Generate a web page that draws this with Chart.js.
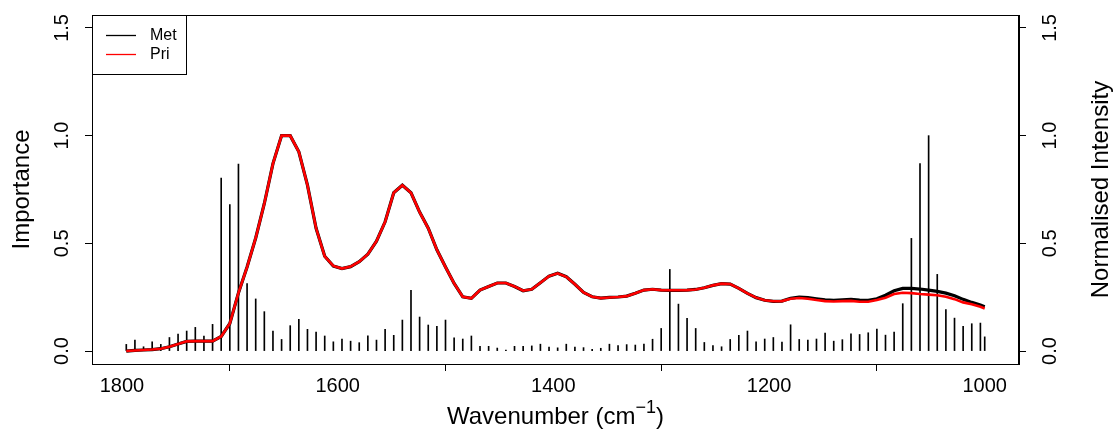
<!DOCTYPE html>
<html>
<head>
<meta charset="utf-8">
<script src="https://cdn.jsdelivr.net/npm/chart.js@4/dist/chart.umd.min.js"></script>
<style>
html,body{margin:0;padding:0;background:#fff;}
#wrap{width:1117px;height:436px;}
</style>
</head>
<body>
<div id="wrap"><canvas id="c" width="1117" height="436"></canvas></div>
<script>
const wavenumbers = [1796,1788,1780,1772,1764,1756,1748,1740,1732,1724,
 1716,1708,1700,1692,1684,1676,1668,1660,1652,1644,
 1636,1628,1620,1612,1604,1596,1588,1580,1572,1564,
 1556,1548,1540,1532,1524,1516,1508,1500,1492,1484,
 1476,1468,1460,1452,1444,1436,1428,1420,1412,1404,
 1396,1388,1380,1372,1364,1356,1348,1340,1332,1324,
 1316,1308,1300,1292,1284,1276,1268,1260,1252,1244,
 1236,1228,1220,1212,1204,1196,1188,1180,1172,1164,
 1156,1148,1140,1132,1124,1116,1108,1100,1092,1084,
 1076,1068,1060,1052,1044,1036,1028,1020,1012,1004,1000];

const intensity = [0.031,0.051,0.020,0.043,0.031,0.063,0.079,0.093,0.110,0.070,
 0.124,0.803,0.680,0.868,0.313,0.242,0.183,0.093,0.054,0.118,
 0.147,0.101,0.088,0.070,0.043,0.056,0.046,0.039,0.071,0.051,
 0.101,0.073,0.144,0.282,0.158,0.121,0.115,0.144,0.062,0.056,
 0.070,0.022,0.022,0.014,0.005,0.022,0.022,0.024,0.032,0.018,
 0.015,0.032,0.018,0.016,0.008,0.013,0.032,0.025,0.030,0.028,
 0.032,0.055,0.105,0.379,0.218,0.152,0.105,0.040,0.026,0.020,
 0.054,0.073,0.093,0.043,0.056,0.063,0.042,0.122,0.054,0.051,
 0.056,0.084,0.046,0.053,0.080,0.077,0.085,0.102,0.074,0.088,
 0.220,0.523,0.870,1.000,0.356,0.193,0.153,0.115,0.127,0.130,0.066];

const importancePri = [0.000,0.003,0.005,0.007,0.011,0.020,0.033,0.045,0.046,0.046,
 0.046,0.068,0.128,0.270,0.390,0.525,0.685,0.870,1.000,1.000,
 0.925,0.770,0.570,0.440,0.395,0.383,0.392,0.415,0.450,0.510,
 0.600,0.735,0.770,0.735,0.645,0.570,0.470,0.390,0.314,0.252,
 0.245,0.283,0.300,0.316,0.316,0.300,0.280,0.287,0.317,0.348,
 0.361,0.345,0.310,0.272,0.252,0.246,0.249,0.251,0.255,0.268,
 0.283,0.287,0.283,0.282,0.282,0.283,0.286,0.294,0.305,0.313,
 0.311,0.291,0.268,0.248,0.236,0.231,0.232,0.243,0.246,0.243,
 0.237,0.232,0.230,0.232,0.233,0.229,0.229,0.237,0.248,0.265,
 0.271,0.269,0.265,0.262,0.259,0.252,0.241,0.226,0.217,0.206,0.198];

const importanceMet = [0.000,0.003,0.005,0.007,0.011,0.020,0.033,0.045,0.046,0.046,
 0.046,0.068,0.128,0.270,0.390,0.525,0.685,0.870,1.000,1.000,
 0.925,0.770,0.570,0.440,0.395,0.383,0.392,0.415,0.450,0.510,
 0.600,0.735,0.770,0.735,0.645,0.570,0.470,0.390,0.314,0.252,
 0.245,0.283,0.300,0.316,0.316,0.300,0.280,0.287,0.317,0.348,
 0.361,0.345,0.310,0.272,0.252,0.246,0.249,0.251,0.255,0.268,
 0.283,0.287,0.283,0.282,0.282,0.283,0.286,0.294,0.305,0.313,
 0.311,0.291,0.268,0.248,0.236,0.231,0.232,0.245,0.251,0.248,
 0.243,0.238,0.236,0.238,0.240,0.237,0.236,0.243,0.259,0.280,
 0.291,0.291,0.288,0.283,0.277,0.269,0.257,0.240,0.226,0.214,0.206];

const xTicks = [1800, 1600, 1400, 1200, 1000];
const yTicks = [0, 0.5, 1.0, 1.5];
const yTickLabels = ['0.0', '0.5', '1.0', '1.5'];
const seriesNames = ['Met', 'Pri'];
const seriesColors = ['#000000', '#ff0000'];

const FONT = "'Liberation Sans', Arial, Helvetica, sans-serif";

const decorPlugin = {
  id: 'decor',
  afterDraw(chart) {
    const ctx = chart.ctx;
    const a = chart.chartArea;
    const yL = chart.scales.y, yR = chart.scales.y2;
    ctx.save();
    // box
    ctx.strokeStyle = '#000';
    ctx.lineWidth = 1;
    ctx.strokeRect(Math.round(a.left) + 0.5, Math.round(a.top) + 0.5,
      Math.round(a.right - a.left) - 1, Math.round(a.bottom - a.top));
    // rotated y tick labels
    ctx.fillStyle = '#000';
    ctx.font = '20px ' + FONT;
    ctx.textAlign = 'center';
    ctx.textBaseline = 'middle';
    yTicks.forEach((v, i) => {
      const py = yL.getPixelForValue(v);
      ctx.save(); ctx.translate(62, py); ctx.rotate(-Math.PI / 2);
      ctx.fillText(yTickLabels[i], 0, 0); ctx.restore();
      const py2 = yR.getPixelForValue(v);
      ctx.save(); ctx.translate(1050, py2); ctx.rotate(-Math.PI / 2);
      ctx.fillText(yTickLabels[i], 0, 0); ctx.restore();
    });
    // axis titles
    ctx.font = '24px ' + FONT;
    const midY = (a.top + a.bottom) / 2;
    ctx.save(); ctx.translate(22, midY); ctx.rotate(-Math.PI / 2);
    ctx.fillText('Importance', 0, 0); ctx.restore();
    ctx.save(); ctx.translate(1101, midY); ctx.rotate(-Math.PI / 2);
    ctx.fillText('Normalised Intensity', 0, 0); ctx.restore();
    // x title with superscript
    const main = 'Wavenumber (cm';
    const sup = '\u22121';
    const close = ')';
    ctx.font = '24px ' + FONT;
    const w1 = ctx.measureText(main).width;
    const w3 = ctx.measureText(close).width;
    ctx.font = '18px ' + FONT;
    const w2 = ctx.measureText(sup).width;
    const total = w1 + w2 + w3;
    const cx = (a.left + a.right) / 2;
    const sx = cx - total / 2;
    const by = 424;
    ctx.textAlign = 'left';
    ctx.textBaseline = 'alphabetic';
    ctx.font = '24px ' + FONT;
    ctx.fillText(main, sx, by);
    ctx.font = '18px ' + FONT;
    ctx.fillText(sup, sx + w1, by - 11);
    ctx.font = '24px ' + FONT;
    ctx.fillText(close, sx + w1 + w2, by);
    // legend
    const lx = Math.round(a.left), ly = Math.round(a.top);
    ctx.fillStyle = '#fff';
    ctx.fillRect(lx + 1, ly + 1, 93, 58);
    ctx.strokeStyle = '#000';
    ctx.lineWidth = 1;
    ctx.strokeRect(lx + 0.5, ly + 0.5, 94, 59);
    ctx.font = '16px ' + FONT;
    ctx.textBaseline = 'middle';
    ctx.textAlign = 'left';
    seriesNames.forEach((n, i) => {
      const yy = ly + 20 + i * 19;
      ctx.strokeStyle = seriesColors[i];
      ctx.lineWidth = 1.3;
      ctx.beginPath(); ctx.moveTo(lx + 14, yy + 0.5); ctx.lineTo(lx + 44, yy + 0.5); ctx.stroke();
      ctx.fillStyle = '#000';
      ctx.fillText(n, lx + 58, yy + 1);
    });
    ctx.restore();
  }
};

function pts(vals) { return wavenumbers.map((w, i) => ({ x: w, y: vals[i] })); }

const yCommon = {
  type: 'linear', min: -0.06, max: 1.56,
  afterBuildTicks: s => { s.ticks = yTicks.map(v => ({ value: v })); },
  ticks: { display: false },
  grid: { drawOnChartArea: false, drawTicks: true, tickLength: 7, color: '#000', tickColor: '#000', lineWidth: 1 },
  border: { display: true, color: '#000', width: 1 }
};

new Chart(document.getElementById('c'), {
  type: 'bar',
  data: {
    datasets: [
      { type: 'line', label: seriesNames[1], data: pts(importancePri), borderColor: seriesColors[1],
        borderWidth: 2.6, pointRadius: 0, tension: 0, yAxisID: 'y', order: 0 },
      { type: 'line', label: seriesNames[0], data: pts(importanceMet), borderColor: seriesColors[0],
        borderWidth: 3.2, pointRadius: 0, tension: 0, yAxisID: 'y', order: 1 },
      { type: 'bar', label: 'Normalised Intensity', data: pts(intensity), backgroundColor: '#000',
        borderWidth: 0, barThickness: 1, yAxisID: 'y2', order: 2, grouped: false }
    ]
  },
  options: {
    responsive: false,
    animation: false,
    events: [],
    layout: { padding: { top: 15, left: 0, right: 0, bottom: 0 } },
    plugins: { legend: { display: false }, tooltip: { enabled: false } },
    scales: {
      x: {
        type: 'linear', reverse: true, min: 968.2, max: 1827.8, offset: false,
        afterBuildTicks: s => { s.ticks = xTicks.map(v => ({ value: v })); },
        afterFit: s => { s.height = 72; },
        ticks: { color: '#000', font: { family: FONT, size: 20 }, maxRotation: 0, minRotation: 0,
          autoSkip: false, padding: 3, callback: v => String(v) },
        grid: { drawOnChartArea: false, drawTicks: true, tickLength: 7, color: '#000', tickColor: '#000' },
        border: { display: true, color: '#000' }
      },
      y: Object.assign({}, yCommon, { position: 'left', afterFit: s => { s.width = 92; } }),
      y2: Object.assign({}, yCommon, { position: 'right', afterFit: s => { s.width = 98; } })
    }
  },
  plugins: [decorPlugin]
});
</script>
</body>
</html>
